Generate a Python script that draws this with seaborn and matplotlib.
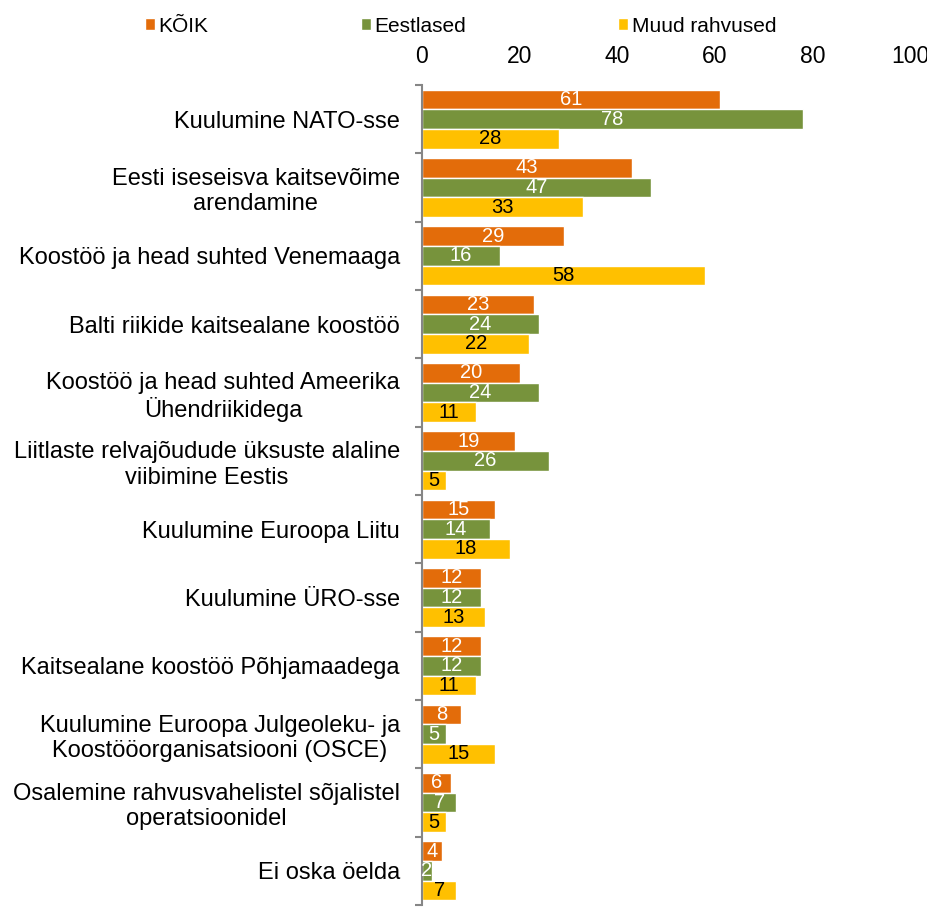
import pandas as pd
import matplotlib.pyplot as plt
import seaborn as sns
from matplotlib.ticker import FixedLocator
from matplotlib.patches import Patch

# Survey categories (top to bottom)
categories = [
    "Kuulumine NATO-sse",
    "Eesti iseseisva kaitsevõime\narendamine",
    "Koostöö ja head suhted Venemaaga",
    "Balti riikide kaitsealane koostöö",
    "Koostöö ja head suhted Ameerika\nÜhendriikidega",
    "Liitlaste relvajõudude üksuste alaline\nviibimine Eestis",
    "Kuulumine Euroopa Liitu",
    "Kuulumine ÜRO-sse",
    "Kaitsealane koostöö Põhjamaadega",
    "Kuulumine Euroopa Julgeoleku- ja\nKoostööorganisatsiooni (OSCE)",
    "Osalemine rahvusvahelistel sõjalistel\noperatsioonidel",
    "Ei oska öelda",
]
groups = ["KÕIK", "Eestlased", "Muud rahvused"]
koik = [61, 43, 29, 23, 20, 19, 15, 12, 12, 8, 6, 4]
eestlased = [78, 47, 16, 24, 24, 26, 14, 12, 12, 5, 7, 2]
muud = [28, 33, 58, 22, 11, 5, 18, 13, 11, 15, 5, 7]
colors = ["#E36C0A", "#77933C", "#FFC000"]
label_colors = ["white", "white", "black"]

# Long format for seaborn
rows = []
for g, vals in zip(groups, [koik, eestlased, muud]):
    for c, v in zip(categories, vals):
        rows.append({"category": c, "group": g, "value": v})
df = pd.DataFrame(rows)

sns.set_style("white")
plt.rcParams["font.family"] = ["Liberation Sans", "DejaVu Sans"]
plt.rcParams["text.color"] = "black"
plt.rcParams["xtick.color"] = "black"
plt.rcParams["ytick.color"] = "black"

fig = plt.figure(figsize=(9.28, 9.07), dpi=100)
ax = fig.add_axes([422 / 928, 1 - 905 / 907, 488 / 928, 820 / 907])

sns.barplot(data=df, y="category", x="value", hue="group", orient="h",
            palette=colors, width=0.86, order=categories, hue_order=groups,
            saturation=1, ax=ax, legend=False)

for cont, lc in zip(ax.containers, label_colors):
    ax.bar_label(cont, label_type="center", color=lc, fontsize=14.5)

ax.set_xlim(0, 100)
ax.set_ylim(len(categories) - 0.5, -0.5)
ax.xaxis.tick_top()
ax.set_xticks(range(0, 101, 20))
ax.tick_params(axis="x", length=0, labelsize=16.5, labelcolor="black", pad=12)
ax.set_xlabel("")
ax.set_ylabel("")

for lab in ax.get_yticklabels():
    lab.set_multialignment("center")
ax.tick_params(axis="y", which="major", length=0, labelsize=17, labelcolor="black", pad=16)
ax.yaxis.set_minor_locator(FixedLocator([i - 0.5 for i in range(len(categories) + 1)]))
ax.tick_params(axis="y", which="minor", length=5, width=1.5, color="#868686", left=True)

for s in ["top", "right", "bottom"]:
    ax.spines[s].set_visible(False)
ax.spines["left"].set_color("#868686")
ax.spines["left"].set_linewidth(1.5)

handles = [Patch(facecolor=c, label=g) for c, g in zip(colors, groups)]
fig.legend(handles=handles, loc="center left", bbox_to_anchor=(145 / 928, 1 - 26 / 907),
           ncol=3, frameon=False, fontsize=15, handlelength=0.5, handleheight=0.5,
           handletextpad=0.15, columnspacing=7.3, borderpad=0, borderaxespad=0)

plt.savefig("out.png", dpi=100)
